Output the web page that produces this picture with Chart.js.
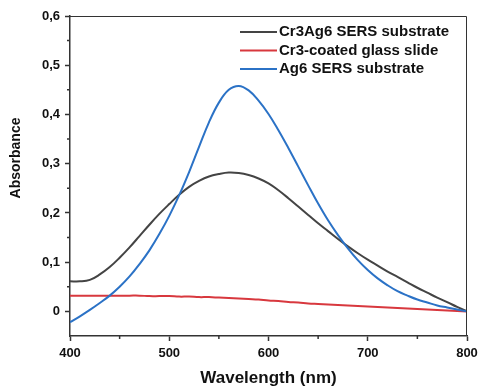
<!DOCTYPE html>
<html>
<head>
<meta charset="utf-8">
<script src="https://cdn.jsdelivr.net/npm/chart.js@4/dist/chart.umd.min.js"></script>
<style>
  html, body { margin: 0; padding: 0; background: #fff; }
  #wrap { width: 478px; height: 392px; }
</style>
</head>
<body>
<div id="wrap"><canvas id="main-chart" width="478" height="392"></canvas></div>
<script>
// wavelengths in nm
const wavelengths = [400, 410, 420, 430, 440, 450, 460, 470, 480, 490, 500, 510, 520, 530, 540, 550, 560, 570, 580, 590, 600,
    610, 620, 630, 640, 650, 660, 670, 680, 690, 700, 710, 720, 730, 740, 750, 760, 770, 780, 790, 800];
const cr3ag6 = [0.061, 0.061, 0.064, 0.075, 0.09, 0.109, 0.13, 0.153, 0.176, 0.198, 0.218, 0.237, 0.253, 0.265, 0.274, 0.279, 0.282, 0.281, 0.277, 0.27, 0.26,
    0.246, 0.23, 0.213, 0.196, 0.179, 0.163, 0.147, 0.132, 0.118, 0.105, 0.093, 0.081, 0.07, 0.059, 0.048, 0.038, 0.028, 0.019, 0.009, 0.0];
const cr3glass = [0.032, 0.032, 0.032, 0.032, 0.032, 0.032, 0.032, 0.032, 0.031, 0.031, 0.031, 0.03, 0.03, 0.029, 0.029, 0.028, 0.027, 0.026, 0.025, 0.024, 0.022,
    0.021, 0.019, 0.018, 0.016, 0.015, 0.014, 0.013, 0.012, 0.011, 0.01, 0.009, 0.008, 0.007, 0.006, 0.005, 0.004, 0.003, 0.002, 0.001, 0.0];
const ag6 = [-0.022, -0.01, 0.003, 0.017, 0.032, 0.05, 0.071, 0.096, 0.124, 0.157, 0.194, 0.236, 0.283, 0.334, 0.384, 0.424, 0.45, 0.458, 0.449, 0.428, 0.401,
    0.368, 0.332, 0.294, 0.256, 0.219, 0.185, 0.155, 0.128, 0.104, 0.084, 0.067, 0.053, 0.041, 0.032, 0.024, 0.018, 0.012, 0.008, 0.004, 0.0];

const seriesLabels = ['Cr3Ag6 SERS substrate', 'Cr3-coated glass slide', 'Ag6 SERS substrate'];
const seriesColors = ['#444444', '#d8383e', '#2b72c6'];

const xMajor = [400, 500, 600, 700, 800];
const xMinor = [450, 550, 650, 750];
const yMajor = [0, 0.1, 0.2, 0.3, 0.4, 0.5, 0.6];
const yMinor = [0.05, 0.15, 0.25, 0.35, 0.45, 0.55];

const xTitle = 'Wavelength (nm)';
const yTitle = 'Absorbance';

const axisColor = '#333333';
const fontFamily = '"Liberation Sans", Arial, sans-serif';

function toPoints(ys) {
    return wavelengths.map((w, i) => ({ x: w, y: ys[i] }));
}

function makeLine(label, ys, color, order) {
    return {
        label: label,
        data: toPoints(ys),
        borderColor: color,
        backgroundColor: color,
        borderWidth: 2,
        pointRadius: 0,
        fill: false,
        tension: 0.4,
        order: order
    };
}

// frame, minor ticks, y title and the legend in the top right corner
const extras = {
    id: 'extras',
    afterDraw(chart) {
        const ctx = chart.ctx;
        const a = chart.chartArea;
        const xs = chart.scales.x, ys = chart.scales.y;
        ctx.save();
        ctx.strokeStyle = axisColor;
        ctx.lineWidth = 1;
        ctx.beginPath();
        ctx.moveTo(a.left, a.top + 0.5);
        ctx.lineTo(a.right - 0.5, a.top + 0.5);
        ctx.lineTo(a.right - 0.5, a.bottom);
        ctx.stroke();

        ctx.lineWidth = 1.5;
        ctx.beginPath();
        xMinor.forEach(v => {
            const px = xs.getPixelForValue(v);
            ctx.moveTo(px, a.bottom);
            ctx.lineTo(px, a.bottom + 3);
        });
        yMinor.forEach(v => {
            const py = ys.getPixelForValue(v);
            ctx.moveTo(a.left, py);
            ctx.lineTo(a.left - 3, py);
        });
        ctx.stroke();

        ctx.fillStyle = '#111';
        ctx.save();
        ctx.translate(16, 158);
        ctx.rotate(-Math.PI / 2);
        ctx.font = 'bold 14px ' + fontFamily;
        ctx.textAlign = 'center';
        ctx.textBaseline = 'middle';
        ctx.fillText(yTitle, 0, 0);
        ctx.restore();

        ctx.font = 'bold 15px ' + fontFamily;
        ctx.textBaseline = 'middle';
        ctx.textAlign = 'left';
        chart.data.datasets.forEach((ds, i) => {
            const yy = 32 + i * 18.5;
            ctx.strokeStyle = ds.borderColor;
            ctx.lineWidth = 2;
            ctx.beginPath();
            ctx.moveTo(240, yy);
            ctx.lineTo(277, yy);
            ctx.stroke();
            ctx.fillStyle = '#111';
            ctx.fillText(ds.label, 279, yy);
        });
        ctx.restore();
    }
};

new Chart(document.getElementById('main-chart'), {
    type: 'line',
    data: {
        datasets: [
            makeLine(seriesLabels[0], cr3ag6, seriesColors[0], 1),
            makeLine(seriesLabels[1], cr3glass, seriesColors[1], 2),
            makeLine(seriesLabels[2], ag6, seriesColors[2], 0)
        ]
    },
    options: {
        responsive: false,
        animation: false,
        layout: { padding: { top: 16, right: 11, left: 0, bottom: 0 } },
        plugins: { legend: { display: false }, tooltip: { enabled: false } },
        scales: {
            x: {
                type: 'linear',
                min: 400,
                max: 800,
                afterBuildTicks: s => { s.ticks = xMajor.map(v => ({ value: v })); },
                afterFit: s => { s.height = 56; s.paddingRight = 0; s.paddingLeft = 0; },
                grid: { drawOnChartArea: false, tickLength: 5, tickColor: axisColor, tickWidth: 1.5 },
                border: { color: axisColor, width: 1.5 },
                ticks: {
                    color: '#111',
                    padding: 5,
                    maxRotation: 0,
                    font: { family: fontFamily, size: 13, weight: 'bold' }
                },
                title: {
                    display: true,
                    text: xTitle,
                    color: '#111',
                    padding: { top: 0, bottom: 3 },
                    font: { family: fontFamily, size: 17, weight: 'bold' }
                }
            },
            y: {
                type: 'linear',
                min: -0.05,
                max: 0.6,
                afterBuildTicks: s => { s.ticks = yMajor.map(v => ({ value: v })); },
                afterFit: s => { s.width = 70; s.paddingTop = 0; s.paddingBottom = 0; },
                grid: { drawOnChartArea: false, tickLength: 5, tickColor: axisColor, tickWidth: 1.5 },
                border: { color: axisColor, width: 1.5 },
                ticks: {
                    color: '#111',
                    padding: 5,
                    font: { family: fontFamily, size: 13, weight: 'bold' },
                    callback: v => v === 0 ? '0' : v.toFixed(1).replace('.', ',')
                }
            }
        }
    },
    plugins: [extras]
});
</script>
</body>
</html>
